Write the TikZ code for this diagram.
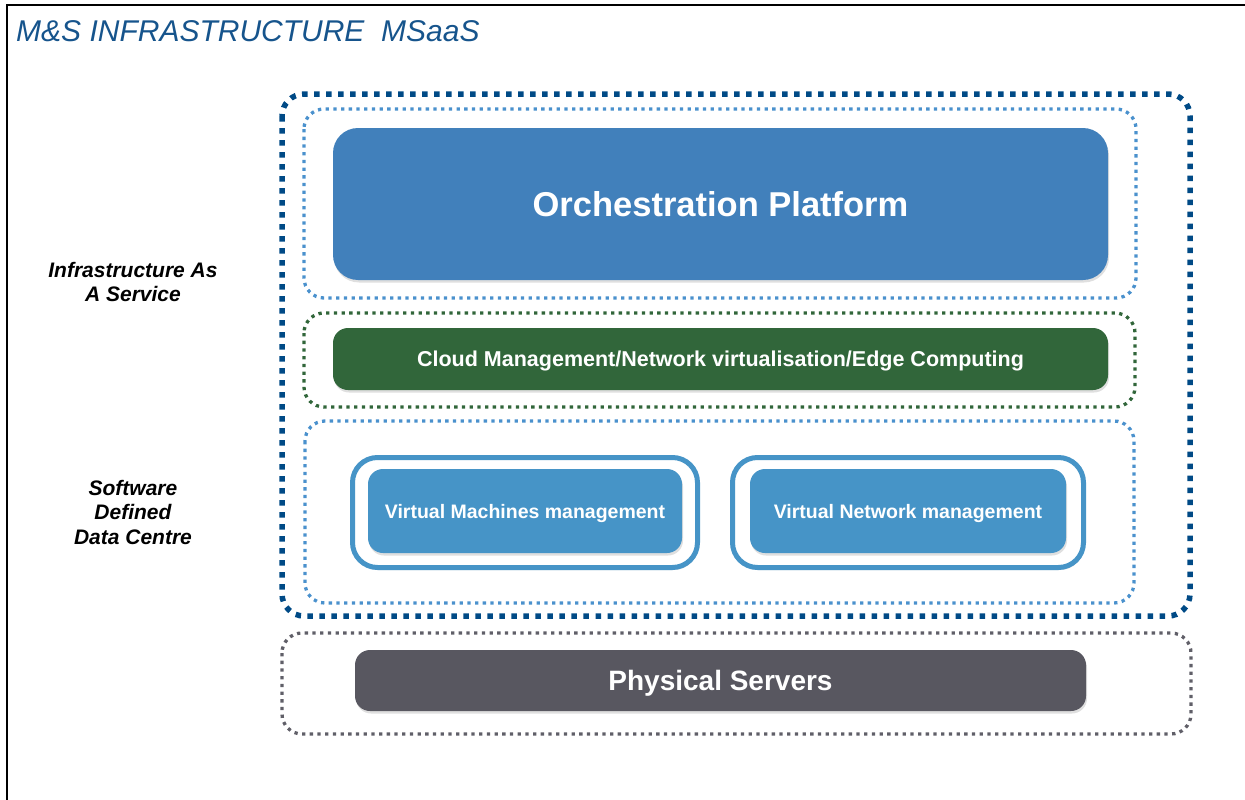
\documentclass[tikz,border=0pt]{standalone}
\usepackage{fontspec}
\setmainfont{Liberation Sans}
\usetikzlibrary{shadows}

% colours picked from the slide
\definecolor{titleblue}{RGB}{22,84,140}
\definecolor{outerblue}{RGB}{0,74,134}
\definecolor{lightblue}{RGB}{74,145,205}
\definecolor{orchblue}{RGB}{65,128,187}
\definecolor{vmblue}{RGB}{70,148,199}
\definecolor{cloudgreen}{RGB}{49,102,58}
\definecolor{servergray}{RGB}{88,87,96}

\tikzset{
    darkdots/.style={draw=outerblue, line width=5.5pt, dash pattern=on 5.5pt off 6.5pt, rounded corners=22pt},
    lightdots/.style={line width=3.3pt, dash pattern=on 3.3pt off 4.4pt, rounded corners=20pt},
    layerbox/.style={rectangle, rounded corners=15pt, inner sep=0pt, text=white, text depth=0pt,
        drop shadow={opacity=0.25, shadow xshift=1pt, shadow yshift=-2.5pt}},
    sidelabel/.style={align=center, font=\bfseries\itshape\fontsize{21}{24.5}\selectfont}
}

\begin{document}
\begin{tikzpicture}[x=1pt, y=-1pt]
    % Fix the page to the size of the slide
    \useasboundingbox (0,0) rectangle (1245,800);

    % Frame of the slide (only top and left edges show)
    \draw[line width=2pt] (7,800) -- (7,5) -- (1245,5);

    % Title
    \node[anchor=base west, inner sep=0pt, text=titleblue,
          font=\itshape\fontsize{30}{36}\selectfont] (title) at (16,42)
          {M\&S INFRASTRUCTURE\ \ MSaaS};

    % Labels on the left side
    \node[sidelabel] (iaas) at (133,282) {Infrastructure As\\A Service};
    \node[sidelabel] (sddc) at (133,512) {Software\\Defined\\Data Centre};

    % Dotted frames round the layers
    \draw[darkdots] (282,94) rectangle (1190,616); % Outer frame
    \draw[lightdots, draw=lightblue] (304,109) rectangle (1136,298);
    \draw[lightdots, draw=cloudgreen] (304,313) rectangle (1135,407);
    \draw[lightdots, draw=lightblue] (305,421) rectangle (1134,603);
    \draw[lightdots, draw=servergray!95!white] (282,633) rectangle (1191,734);

    % Orchestration layer
    \node[layerbox, fill=orchblue, rounded corners=25pt, minimum width=775pt, minimum height=152pt,
          font=\bfseries\fontsize{34.5}{40}\selectfont] (orch) at (720.5,204) {Orchestration Platform};

    % Cloud management layer
    \node[layerbox, fill=cloudgreen, minimum width=775pt, minimum height=62pt,
          font=\bfseries\fontsize{21.5}{26}\selectfont] (cloud) at (720.5,359)
          {Cloud Management/Network virtualisation/Edge Computing};

    % Software defined data centre: two management blocks inside rings
    \draw[draw=vmblue, line width=5pt, fill=white, rounded corners=25pt,
          drop shadow={opacity=0.25, shadow xshift=1pt, shadow yshift=-2.5pt}]
        (352.5,457.5) rectangle (697.5,567.5);
    \node[layerbox, fill=vmblue, minimum width=314pt, minimum height=84pt,
          font=\bfseries\fontsize{19.5}{24}\selectfont] (vm) at (525,511) {Virtual Machines management};

    \draw[draw=vmblue, line width=5pt, fill=white, rounded corners=25pt,
          drop shadow={opacity=0.25, shadow xshift=1pt, shadow yshift=-2.5pt}]
        (732.5,457.5) rectangle (1083.5,567.5);
    \node[layerbox, fill=vmblue, minimum width=316pt, minimum height=84pt,
          font=\bfseries\fontsize{19.5}{24}\selectfont] (vn) at (908,511) {Virtual Network management};

    % Hardware layer
    \node[layerbox, fill=servergray, minimum width=731pt, minimum height=61pt,
          font=\bfseries\fontsize{28}{34}\selectfont] (servers) at (720.5,680.5) {Physical Servers};
\end{tikzpicture}
\end{document}
